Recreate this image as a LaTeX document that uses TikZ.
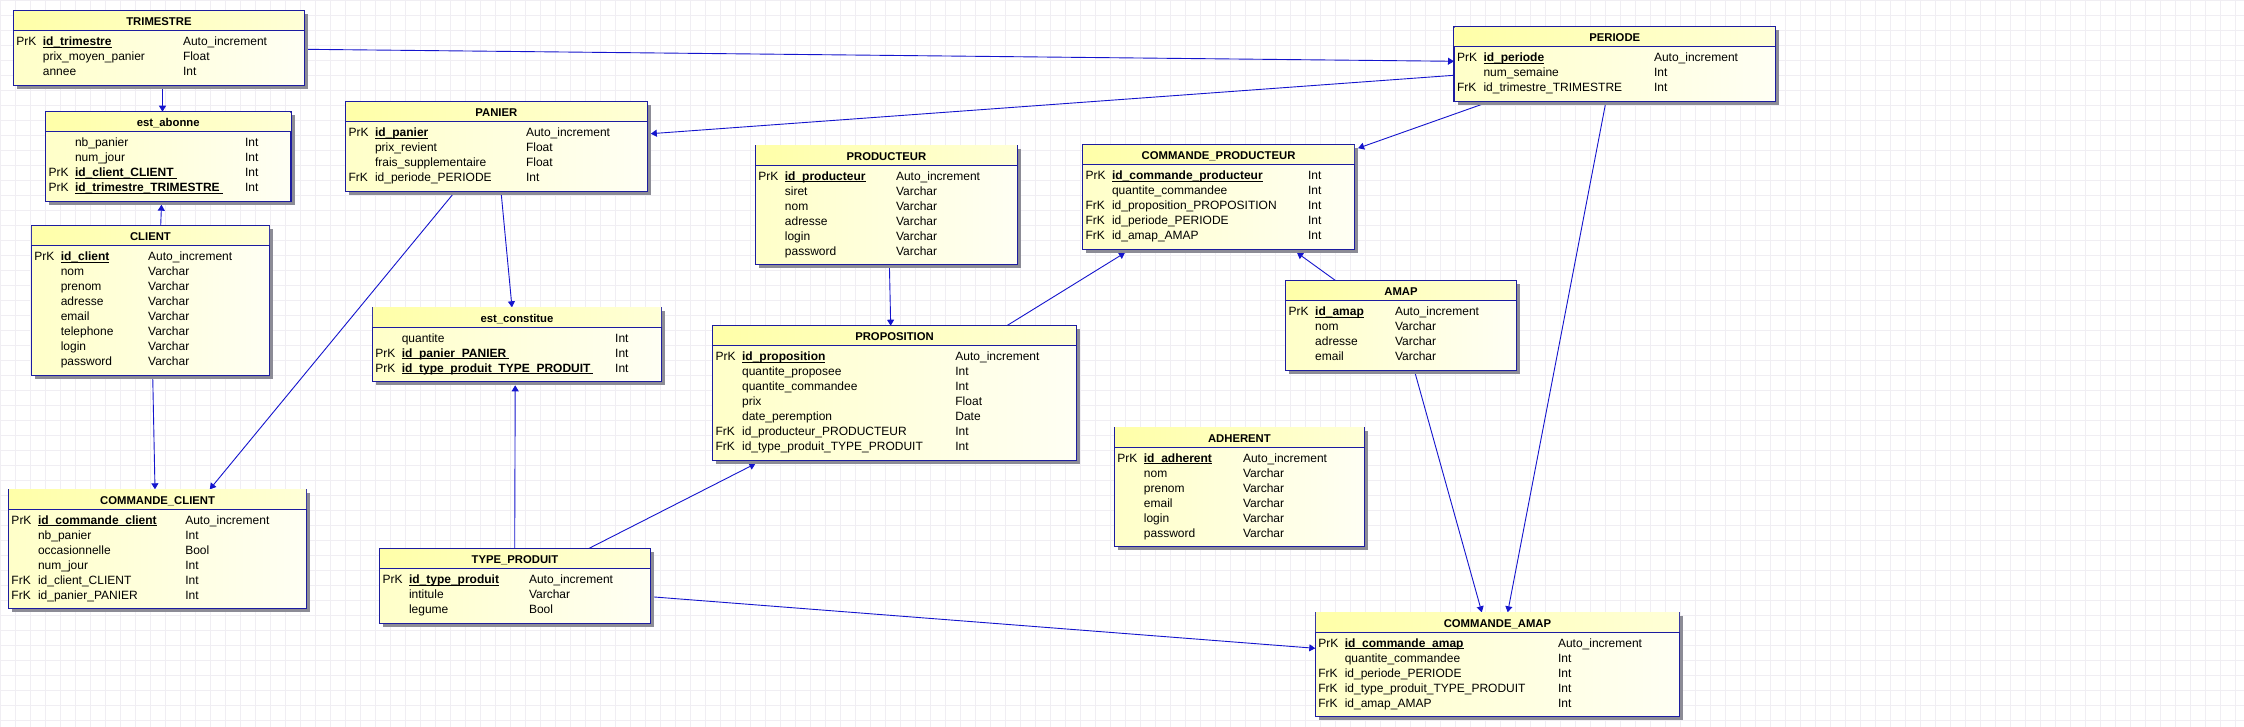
\documentclass[tikz,border=0pt]{standalone}
\usepackage{fontspec}
\setmainfont{Liberation Sans}
\usetikzlibrary{arrows.meta,calc}
\pgfdeclarelayer{gridl}
\pgfdeclarelayer{conn}
\pgfsetlayers{gridl,conn,main}
\definecolor{bordc}{RGB}{28,28,160}
\definecolor{linec}{RGB}{20,20,205}
\definecolor{shadc}{RGB}{140,140,150}
\definecolor{gridc}{RGB}{240,238,243}
\definecolor{headL}{RGB}{255,255,168}
\definecolor{headR}{RGB}{255,255,215}
\definecolor{bodyL}{RGB}{255,255,200}
\definecolor{bodyR}{RGB}{255,255,244}
\newcommand\bodyf{\fontsize{12}{14}\selectfont}
\newcommand\headf{\fontsize{11.3}{13}\selectfont\bfseries}
\newsavebox\pkbox
\newcommand\pk[1]{\sbox\pkbox{\textbf{#1}}\rlap{\rule[-1.9pt]{\wd\pkbox}{0.9pt}}\usebox\pkbox}
\newcommand\pkx[1]{\sbox\pkbox{\textbf{#1}}\rlap{\rule[-1.9pt]{\dimexpr\wd\pkbox+3pt\relax}{0.9pt}}\usebox\pkbox}
\tikzset{
  entbox/.style={draw=bordc, line width=1.1pt, shade, left color=bodyL, right color=bodyR, inner sep=0pt, outer sep=0pt},
  txt/.style={inner sep=0pt, outer sep=0pt, font=\bodyf, anchor=base west},
  ttl/.style={inner sep=0pt, outer sep=0pt, font=\headf, anchor=base},
  fk/.style={draw=linec, line width=0.9pt, -{Triangle[length=6pt,width=7pt]}},
}
\newcommand\erent[8]{%
  \pgfmathsetmacro\ew{#4-#2}%
  \pgfmathsetmacro\eh{29.5+15*#5}%
  \fill[shadc] (#2+3.5,#3+3.5) rectangle (#4+3.5,#3+\eh+3.5);
  \node[entbox, minimum width=\ew pt, minimum height=\eh pt, anchor=north west] (#1) at (#2,#3) {};
  \shade[left color=headL, right color=headR] ([xshift=0.6pt,yshift=-0.6pt]#1.north west) rectangle ([xshift=-0.6pt,yshift=-20pt]#1.north east);
  \draw[bordc, line width=1.1pt] ([yshift=-20pt]#1.north west) -- ([yshift=-20pt]#1.north east);
  \node[ttl] at ({(#2+#4)/2},#3+15) {#6};
  \foreach \kk/\fd/\ty [count=\ri from 0] in {#8} {
    \node[txt] at (#2+3,#3+35+15*\ri) {\kk};
    \node[txt] at (#2+29.5,#3+35+15*\ri) {\fd};
    \node[txt] at (#7,#3+35+15*\ri) {\ty};
  }%
}
\begin{document}
\begin{tikzpicture}[x=1pt,y=-1pt]
\useasboundingbox (0,0) rectangle (2244,727);
\begin{pgfonlayer}{gridl}
  \fill[white] (0,0) rectangle (2244,727);
  \foreach \gx in {0,15,...,2244} \draw[gridc, line width=0.7pt] (\gx,0) -- (\gx,727);
  \foreach \gy in {0,15,...,727} \draw[gridc, line width=0.7pt] (0,\gy) -- (2244,\gy);
\end{pgfonlayer}

\erent{trim}{13.4}{10.7}{304.5}{3}{TRIMESTRE}{183}{
  PrK/\pk{id\_trimestre}/Auto\_increment,
  {}/prix\_moyen\_panier/Float,
  {}/annee/Int}

\erent{abon}{45.5}{111.7}{291}{4}{est\_abonne}{245}{
  {}/nb\_panier/Int,
  {}/num\_jour/Int,
  PrK/\pkx{id\_client\_CLIENT}/Int,
  PrK/\pkx{id\_trimestre\_TRIMESTRE}/Int}

\erent{client}{31.3}{225.7}{269.6}{8}{CLIENT}{148.2}{
  PrK/\pk{id\_client}/Auto\_increment,
  {}/nom/Varchar,
  {}/prenom/Varchar,
  {}/adresse/Varchar,
  {}/email/Varchar,
  {}/telephone/Varchar,
  {}/login/Varchar,
  {}/password/Varchar}

\erent{panier}{345.5}{101.7}{647.3}{4}{PANIER}{526}{
  PrK/\pk{id\_panier}/Auto\_increment,
  {}/prix\_revient/Float,
  {}/frais\_supplementaire/Float,
  FrK/id\_periode\_PERIODE/Int}

\erent{estc}{372.3}{307.3}{661.6}{3}{est\_constitue}{615.2}{
  {}/quantite/Int,
  PrK/\pkx{id\_panier\_PANIER}/Int,
  PrK/\pkx{id\_type\_produit\_TYPE\_PRODUIT}/Int}

\erent{cc}{8.5}{489.3}{306.7}{6}{COMMANDE\_CLIENT}{185.3}{
  PrK/\pk{id\_commande\_client}/Auto\_increment,
  {}/nb\_panier/Int,
  {}/occasionnelle/Bool,
  {}/num\_jour/Int,
  FrK/id\_client\_CLIENT/Int,
  FrK/id\_panier\_PANIER/Int}

\erent{tp}{379.5}{548.7}{650.4}{3}{TYPE\_PRODUIT}{529}{
  PrK/\pk{id\_type\_produit}/Auto\_increment,
  {}/intitule/Varchar,
  {}/legume/Bool}

\erent{prod}{755.4}{145.3}{1017.5}{6}{PRODUCTEUR}{896}{
  PrK/\pk{id\_producteur}/Auto\_increment,
  {}/siret/Varchar,
  {}/nom/Varchar,
  {}/adresse/Varchar,
  {}/login/Varchar,
  {}/password/Varchar}

\erent{cp}{1082.5}{144.7}{1354.6}{5}{COMMANDE\_PRODUCTEUR}{1308}{
  PrK/\pk{id\_commande\_producteur}/Int,
  {}/quantite\_commandee/Int,
  FrK/id\_proposition\_PROPOSITION/Int,
  FrK/id\_periode\_PERIODE/Int,
  FrK/id\_amap\_AMAP/Int}

\erent{prop}{712.6}{325.7}{1076.4}{7}{PROPOSITION}{955.4}{
  PrK/\pk{id\_proposition}/Auto\_increment,
  {}/quantite\_proposee/Int,
  {}/quantite\_commandee/Int,
  {}/prix/Float,
  {}/date\_peremption/Date,
  FrK/id\_producteur\_PRODUCTEUR/Int,
  FrK/id\_type\_produit\_TYPE\_PRODUIT/Int}

\erent{adh}{1114.4}{427.3}{1364.4}{6}{ADHERENT}{1243}{
  PrK/\pk{id\_adherent}/Auto\_increment,
  {}/nom/Varchar,
  {}/prenom/Varchar,
  {}/email/Varchar,
  {}/login/Varchar,
  {}/password/Varchar}

\erent{ca}{1315.3}{612.3}{1679.6}{5}{COMMANDE\_AMAP}{1558}{
  PrK/\pk{id\_commande\_amap}/Auto\_increment,
  {}/quantite\_commandee/Int,
  FrK/id\_periode\_PERIODE/Int,
  FrK/id\_type\_produit\_TYPE\_PRODUIT/Int,
  FrK/id\_amap\_AMAP/Int}

\erent{periode}{1454}{26.7}{1775.5}{3}{PERIODE}{1654}{
  PrK/\pk{id\_periode}/Auto\_increment,
  {}/num\_semaine/Int,
  FrK/id\_trimestre\_TRIMESTRE/Int}

\erent{amap}{1285.7}{280.7}{1516.3}{4}{AMAP}{1395}{
  PrK/\pk{id\_amap}/Auto\_increment,
  {}/nom/Varchar,
  {}/adresse/Varchar,
  {}/email/Varchar}

\begin{pgfonlayer}{conn}
\draw[fk] ($(trim.north east)+(0,38.6)$) -- ($(periode.north west)+(0,34.6)$);
\draw[fk] ($(trim.south west)+(149.1,0)$) -- ($(abon.north west)+(117,0)$);
\draw[fk] ($(client.north west)+(129.4,0)$) -- ($(abon.south west)+(116,3.5)$);
\draw[fk] ($(client.south west)+(121.4,0)$) -- ($(cc.north west)+(146.5,0)$);
\draw[fk] ($(panier.south west)+(109.9,0)$) -- ($(cc.north west)+(201.3,0)$);
\draw[fk] ($(panier.south west)+(155.5,0)$) -- ($(estc.north west)+(139.7,0)$);
\draw[fk] ($(tp.north west)+(135.2,0)$) -- ($(estc.south west)+(142.9,3.5)$);
\draw[fk] ($(periode.north west)+(0,48.6)$) -- ($(panier.north east)+(3.5,32)$);
\draw[fk] ($(prod.south west)+(134,0)$) -- ($(prop.north west)+(178.1,0)$);
\draw[fk] ($(tp.north west)+(208.9,0)$) -- ($(prop.south west)+(42.8,3.5)$);
\draw[fk] ($(prop.north west)+(294.2,0)$) -- ($(cp.south west)+(42.5,3.5)$);
\draw[fk] ($(amap.north west)+(50,0)$) -- ($(cp.south west)+(214.5,3.5)$);
\draw[fk] ($(periode.south west)+(36.8,0)$) -- ($(cp.north east)+(3.5,3.5)$);
\draw[fk] ($(periode.south west)+(152,0)$) -- ($(ca.north west)+(192.4,0)$);
\draw[fk] ($(amap.south west)+(128.6,0)$) -- ($(ca.north west)+(166.5,0)$);
\draw[fk] ($(tp.north east)+(0,48)$) -- ($(ca.north west)+(0,36)$);
\end{pgfonlayer}
\end{tikzpicture}
\end{document}
